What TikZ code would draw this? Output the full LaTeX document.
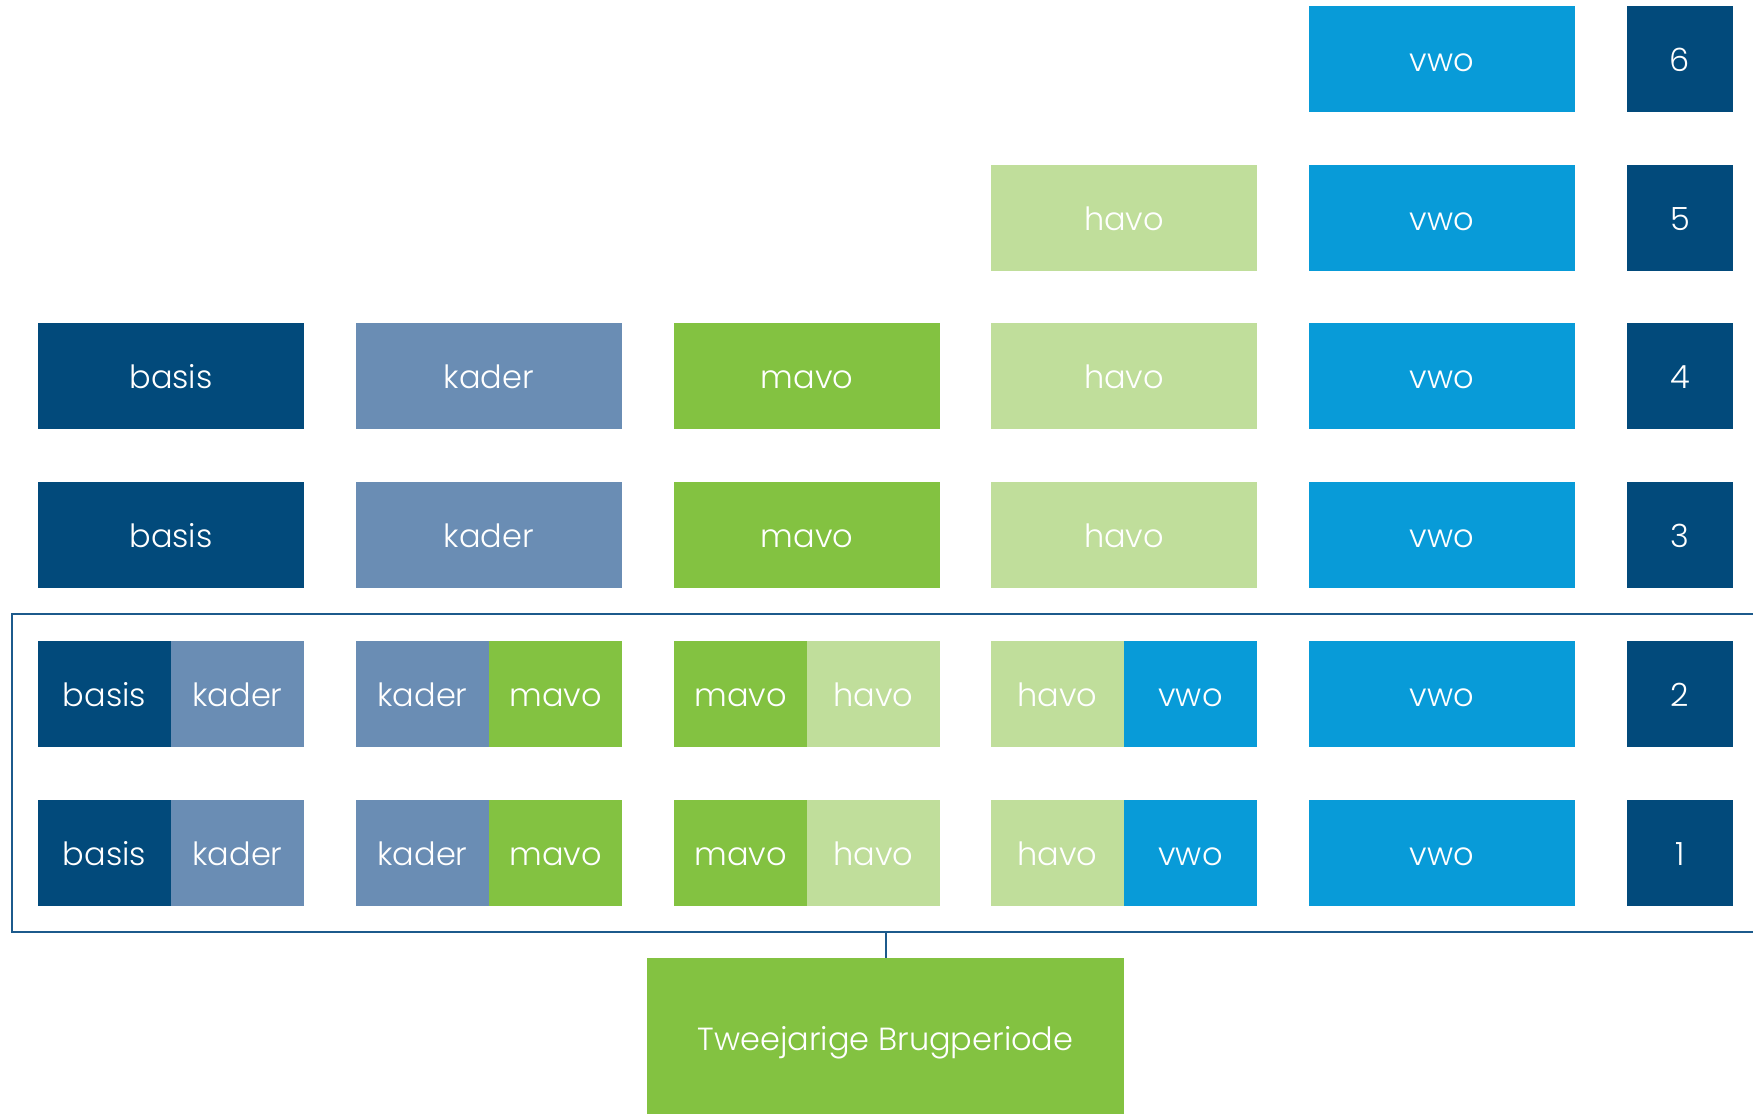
\documentclass[tikz,border=0pt]{standalone}
\usepackage{fontspec}
\setmainfont{Poppins}[UprightFont = * Light]
\definecolor{cbasis}{HTML}{024A7B}
\definecolor{ckader}{HTML}{6A8DB4}
\definecolor{cmavo}{HTML}{83C241}
\definecolor{chavo}{HTML}{C0DE9B}
\definecolor{cvwo}{HTML}{089BD8}
\definecolor{cframe}{HTML}{1C5A8C}
\tikzset{
  cell/.style={draw=none, inner sep=0pt, minimum height=53pt, text height=12.5pt, text depth=0pt, text=white, font=\fontsize{16}{19}\selectfont},
  full/.style={cell, minimum width=133pt},
  half/.style={cell, minimum width=66.5pt},
  num/.style={cell, minimum width=53pt, fill=cbasis},
  framel/.style={draw=cframe, line width=1pt},
}
\begin{document}
\begin{tikzpicture}[x=0.5pt, y=-0.5pt]
\useasboundingbox (0,0) rectangle (1753,1114);
% row 6
\node[full, fill=cvwo] (v6) at (1442,59) {vwo};
\node[num] (n6) at (1680,59) {6};
% row 5
\node[full, fill=chavo] (h5) at (1124,218) {havo};
\node[full, fill=cvwo] (v5) at (1442,218) {vwo};
\node[num] (n5) at (1680,218) {5};
% row 4
\node[full, fill=cbasis] (b4) at (171,376) {basis};
\node[full, fill=ckader] (k4) at (489,376) {kader};
\node[full, fill=cmavo] (m4) at (807,376) {mavo};
\node[full, fill=chavo] (h4) at (1124,376) {havo};
\node[full, fill=cvwo] (v4) at (1442,376) {vwo};
\node[num] (n4) at (1680,376) {4};
% row 3
\node[full, fill=cbasis] (b3) at (171,535) {basis};
\node[full, fill=ckader] (k3) at (489,535) {kader};
\node[full, fill=cmavo] (m3) at (807,535) {mavo};
\node[full, fill=chavo] (h3) at (1124,535) {havo};
\node[full, fill=cvwo] (v3) at (1442,535) {vwo};
\node[num] (n3) at (1680,535) {3};
% row 2
\node[half, fill=cbasis] (b2a) at (104.5,694) {basis};
\node[half, fill=ckader] (b2b) at (237.5,694) {kader};
\node[half, fill=ckader] (k2a) at (422.5,694) {kader};
\node[half, fill=cmavo] (k2b) at (555.5,694) {mavo};
\node[half, fill=cmavo] (m2a) at (740.5,694) {mavo};
\node[half, fill=chavo] (m2b) at (873.5,694) {havo};
\node[half, fill=chavo] (h2a) at (1057.5,694) {havo};
\node[half, fill=cvwo] (h2b) at (1190.5,694) {vwo};
\node[full, fill=cvwo] (v2) at (1442,694) {vwo};
\node[num] (n2) at (1680,694) {2};
% row 1
\node[half, fill=cbasis] (b1a) at (104.5,853) {basis};
\node[half, fill=ckader] (b1b) at (237.5,853) {kader};
\node[half, fill=ckader] (k1a) at (422.5,853) {kader};
\node[half, fill=cmavo] (k1b) at (555.5,853) {mavo};
\node[half, fill=cmavo] (m1a) at (740.5,853) {mavo};
\node[half, fill=chavo] (m1b) at (873.5,853) {havo};
\node[half, fill=chavo] (h1a) at (1057.5,853) {havo};
\node[half, fill=cvwo] (h1b) at (1190.5,853) {vwo};
\node[full, fill=cvwo] (v1) at (1442,853) {vwo};
\node[num] (n1) at (1680,853) {1};
% frame around the two-year bridge period
\draw[framel] (1770,614) -- (12,614) -- (12,932) -- (1770,932);
\coordinate (fb) at (885.5,932);
% bottom box
\node[cell, fill=cmavo, minimum width=238.5pt, minimum height=80pt] (brug) at (885.5,1038) {Tweejarige Brugperiode};
\draw[framel] (fb) -- (brug.north);
\end{tikzpicture}
\end{document}
